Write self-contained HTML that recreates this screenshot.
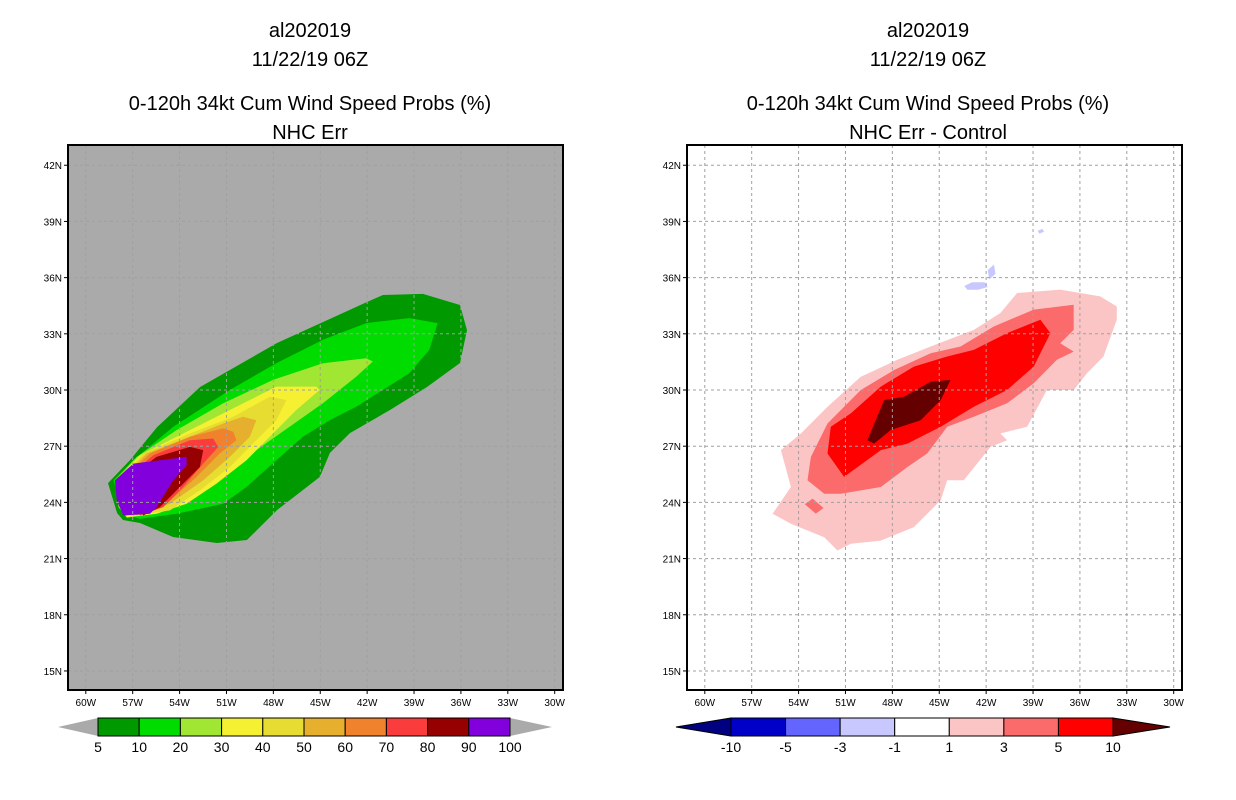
<!DOCTYPE html>
<html><head><meta charset="utf-8"><style>
body{margin:0;background:#fff;}
svg{display:block;font-family:"Liberation Sans",sans-serif;}
</style></head><body>
<svg id="chart" width="1236" height="800" viewBox="0 0 1236 800" xmlns="http://www.w3.org/2000/svg">
<g font-size="20" text-anchor="middle" fill="#000">
<text x="310" y="37">al202019</text><text x="310" y="66">11/22/19 06Z</text>
<text x="310" y="110">0-120h 34kt Cum Wind Speed Probs (%)</text><text x="310" y="139">NHC Err</text></g>
<g font-size="20" text-anchor="middle" fill="#000">
<text x="928" y="37">al202019</text><text x="928" y="66">11/22/19 06Z</text>
<text x="928" y="110">0-120h 34kt Cum Wind Speed Probs (%)</text><text x="928" y="139">NHC Err - Control</text></g>
<g id="left"></g>
<g id="right"></g>
<g id="cb"></g>
</svg>
<script>
const lonTicks=[60,57,54,51,48,45,42,39,36,33,30];
const latTicks=[15,18,21,24,27,30,33,36,39,42];
// left panel contour levels (lon W, lat N)
const levelColors=["#009a00","#00dc00","#a0e632","#f5f032","#e6dc32","#e6af2d","#f0822d","#fa3c3c","#960000","#8200dc"];
const p5=[[58.58,25.03],[57.17,26.26],[55.44,28.02],[52.69,30.16],[47.77,32.51],[42.01,34.70],[40.99,35.07],[38.43,35.13],[36.06,34.54],[35.61,33.20],[36.06,31.44],[38.17,30.16],[40.54,28.93],[43.10,27.70],[44.38,26.64],[45.02,25.36],[47.77,23.59],[49.69,21.99],[51.61,21.83],[54.42,22.15],[56.53,22.90],[57.62,23.06],[58.00,23.43]];
const p10=[[58.23,25.18],[56.96,26.25],[54.40,28.04],[50.79,30.0],[47.81,31.43],[44.83,32.68],[42.06,33.57],[39.30,33.84],[37.49,33.57],[38.02,32.14],[39.30,30.89],[41.0,30.0],[42.70,29.11],[44.40,28.39],[46.11,27.5],[47.81,26.25],[49.72,24.82],[51.21,23.93],[54.19,23.39],[56.53,23.13],[57.60,23.39]];
const p20=[[58.13,25.18],[56.74,26.43],[54.19,27.86],[51.21,29.29],[48.02,30.54],[44.83,31.43],[42.06,31.70],[41.64,31.52],[42.70,30.71],[44.83,29.29],[46.96,28.04],[49.09,26.79],[51.21,25.36],[53.34,24.11],[55.47,23.39],[57.38,23.18],[57.91,23.75]];
const p30=[[58.02,25.18],[56.53,26.52],[53.77,27.68],[50.79,28.93],[47.81,30.18],[45.26,30.18],[45.04,30.0],[46.53,28.93],[48.02,27.68],[49.72,26.25],[51.64,25.0],[53.55,23.93],[55.47,23.39],[57.38,23.21]];
const p40=[[57.91,25.18],[56.32,26.61],[53.34,27.68],[50.57,28.57],[48.23,29.64],[47.17,29.46],[47.81,28.39],[49.09,27.32],[50.79,25.89],[52.70,24.64],[54.62,23.57],[57.17,23.25]];
const p50=[[57.81,25.18],[56.11,26.61],[53.34,27.5],[51.21,28.21],[49.94,28.57],[49.09,28.39],[49.51,27.5],[50.79,26.43],[52.49,25.18],[54.62,23.93],[56.96,23.30]];
const p60=[[57.70,25.18],[55.89,26.61],[53.34,27.5],[51.21,27.95],[50.57,27.77],[50.36,27.32],[51.43,26.61],[52.91,25.36],[54.83,23.93],[56.74,23.30]];
const p70=[[57.60,25.18],[55.68,26.52],[53.34,27.32],[51.85,27.41],[51.53,26.96],[52.49,26.07],[53.77,24.82],[55.04,23.75],[56.53,23.30]];
const p80=[[57.49,25.18],[55.47,26.43],[53.34,26.96],[52.49,26.79],[52.70,25.89],[53.98,24.82],[55.26,23.75],[56.32,23.30]];
const p90=[[58.13,25.18],[56.96,26.07],[53.55,26.43],[53.55,25.98],[54.40,25.18],[55.47,23.75],[55.89,23.39],[57.60,23.30],[58.02,24.11]];
const leftLevels=[p5,p10,p20,p30,p40,p50,p60,p70,p80,p90];
// right panel difference contours
const diffColors=["#fcc5c5","#fb6b6b","#ff0000","#640000","#c8c8ff"];
const d1=[[55.66,23.39],[54.49,24.82],[55.13,26.79],[53.85,27.68],[52.15,29.11],[50.02,30.71],[47.68,31.61],[45.55,32.32],[42.79,33.21],[41.09,34.11],[40.02,35.18],[37.26,35.36],[34.70,35.0],[33.64,34.46],[33.64,33.75],[34.49,31.79],[35.55,30.89],[36.40,30.0],[38.11,30.0],[39.38,28.04],[41.09,27.68],[40.66,27.32],[41.72,26.96],[43.43,25.18],[44.49,25.18],[44.91,24.11],[46.62,22.68],[48.74,21.96],[50.66,21.79],[51.51,21.43],[52.36,22.14],[54.49,22.86]];
const d3=[[53.43,25.18],[53.21,26.43],[52.15,28.21],[50.02,30.0],[47.89,31.07],[45.55,31.96],[43.64,32.32],[41.51,33.39],[38.96,34.29],[36.40,34.55],[36.40,33.21],[37.26,32.5],[36.40,32.05],[37.47,31.61],[38.96,30.36],[40.66,29.29],[42.79,28.57],[44.49,28.04],[45.77,26.61],[47.04,25.89],[48.74,24.82],[51.30,24.46],[52.36,24.46]];
const d3b=[[53.6,23.9],[53.1,24.2],[52.4,23.7],[52.9,23.4]];
const d5=[[52.15,26.61],[51.94,28.04],[50.66,28.75],[48.74,30.18],[46.62,31.25],[44.49,31.79],[42.79,32.14],[40.66,33.04],[38.53,33.75],[37.89,33.04],[38.96,31.25],[40.66,30.0],[42.79,29.11],[44.91,28.04],[47.04,27.14],[48.74,26.79],[51.09,25.36]];
const d10=[[49.60,27.32],[48.53,29.46],[47.26,29.64],[45.55,30.45],[44.28,30.54],[44.91,29.46],[46.19,28.39],[48.11,27.86],[49.17,27.14]];
const neg1=[[43.4,35.55],[42.9,35.75],[42.1,35.75],[41.9,35.5],[42.5,35.35],[43.2,35.35]];
const neg2=[[41.9,36.4],[41.5,36.7],[41.4,36.2],[41.8,35.9]];
const neg3=[[38.7,38.5],[38.4,38.6],[38.3,38.45],[38.6,38.35]];
const rightLevels=[d1,d3,d3b,d5,d10,neg1,neg2,neg3];
const rightLevelColor=[0,1,1,2,3,4,4,4];
const leftCbLabels=["5","10","20","30","40","50","60","70","80","90","100"];
const rightCbLabels=["-10","-5","-3","-1","1","3","5","10"];
const rightCbColors=["#0000c8","#6464ff","#c8c8ff","#ffffff","#fcc5c5","#fb6b6b","#ff0000"];

const NS="http://www.w3.org/2000/svg";
function mk(tag,attrs,parent){const e=document.createElementNS(NS,tag);for(const k in attrs)e.setAttribute(k,attrs[k]);parent.appendChild(e);return e;}
const X0=68,X1=563,Y0=145,Y1=690;
function xs(lon,off){return off+85.8+(60-lon)*15.63;}
function ys(lat){return 390-(lat-30)*18.73;}
function pts(poly,off){return poly.map(p=>xs(p[0],off).toFixed(1)+","+ys(p[1]).toFixed(1)).join(" ");}

function panel(g,off,bg,polys,colorOf,idp){
  const cid="clip"+idp;
  const cp=mk("clipPath",{id:cid},g);mk("rect",{x:X0+off,y:Y0,width:X1-X0,height:Y1-Y0},cp);
  const bgr=mk("rect",{x:X0+off,y:Y0,width:X1-X0,height:Y1-Y0,fill:bg},g);
  
  
  const cg=mk("g",{"clip-path":"url(#"+cid+")"},g);
  polys.forEach((poly,i)=>{
    const pg=mk("polygon",{points:pts(poly,off),fill:colorOf(i)},cg);
    
    
  });
  const gridC="#a0a0a0";
  lonTicks.forEach(l=>{const x=xs(l,off);if(x>X0+off&&x<X1+off){
    const ln=mk("line",{x1:x,x2:x,y1:Y0,y2:Y1,stroke:gridC,"stroke-width":1,"stroke-dasharray":"3,3"},cg);
    
    }});
  latTicks.forEach(l=>{const y=ys(l);
    const ln=mk("line",{x1:X0+off,x2:X1+off,y1:y,y2:y,stroke:gridC,"stroke-width":1,"stroke-dasharray":"3,3"},cg);
    
    });
  const fr=mk("rect",{x:X0+off,y:Y0,width:X1-X0,height:Y1-Y0,fill:"none",stroke:"#000","stroke-width":2},g);
  
  
  lonTicks.forEach(l=>{const x=xs(l,off);
    mk("line",{x1:x,x2:x,y1:Y1,y2:Y1+4,stroke:"#000"},g);
    const t=mk("text",{x:x,y:Y1+16,"font-size":10,"text-anchor":"middle"},g);t.textContent=l+"W";
    
    });
  latTicks.forEach(l=>{const y=ys(l);
    mk("line",{x1:X0+off-4,x2:X0+off,y1:y,y2:y,stroke:"#000"},g);
    const t=mk("text",{x:X0+off-6,y:y+4,"font-size":10,"text-anchor":"end"},g);t.textContent=l+"N";
    
    });
}
panel(document.getElementById("left"),0,"#aaaaaa",leftLevels,i=>levelColors[i],"L");
panel(document.getElementById("right"),619,"#ffffff",rightLevels,i=>diffColors[rightLevelColor[i]],"R");

const cb=document.getElementById("cb");
const cy0=718,cy1=736,cym=727;
{const bx0=98,bx1=510,w=(bx1-bx0)/levelColors.length;
 const lt=mk("polygon",{points:`58,${cym} ${bx0},${cy0} ${bx0},${cy1}`,fill:"#aaaaaa"},cb);
 
 
 const rt=mk("polygon",{points:`${bx1},${cy0} 552,${cym} ${bx1},${cy1}`,fill:"#aaaaaa"},cb);
 
 
 levelColors.forEach((c,i)=>{const r=mk("rect",{x:bx0+i*w,y:cy0,width:w,height:cy1-cy0,fill:c,stroke:"#000","stroke-width":1},cb);
   
   });
 leftCbLabels.forEach((s,i)=>{const t=mk("text",{x:bx0+i*w,y:752,"font-size":14,"text-anchor":"middle"},cb);t.textContent=s;
   
   });}
{const bx0=731,bx1=1113,w=(bx1-bx0)/rightCbColors.length;
 const lt=mk("polygon",{points:`676,${cym} ${bx0},${cy0} ${bx0},${cy1}`,fill:"#000080",stroke:"#000"},cb);
 
 
 const rt=mk("polygon",{points:`${bx1},${cy0} 1170,${cym} ${bx1},${cy1}`,fill:"#640000",stroke:"#000"},cb);
 
 
 rightCbColors.forEach((c,i)=>{const r=mk("rect",{x:bx0+i*w,y:cy0,width:w,height:cy1-cy0,fill:c,stroke:"#000","stroke-width":1},cb);
   
   });
 rightCbLabels.forEach((s,i)=>{const t=mk("text",{x:bx0+i*w,y:752,"font-size":14,"text-anchor":"middle"},cb);t.textContent=s;
   
   });}
</script>
</body></html>
